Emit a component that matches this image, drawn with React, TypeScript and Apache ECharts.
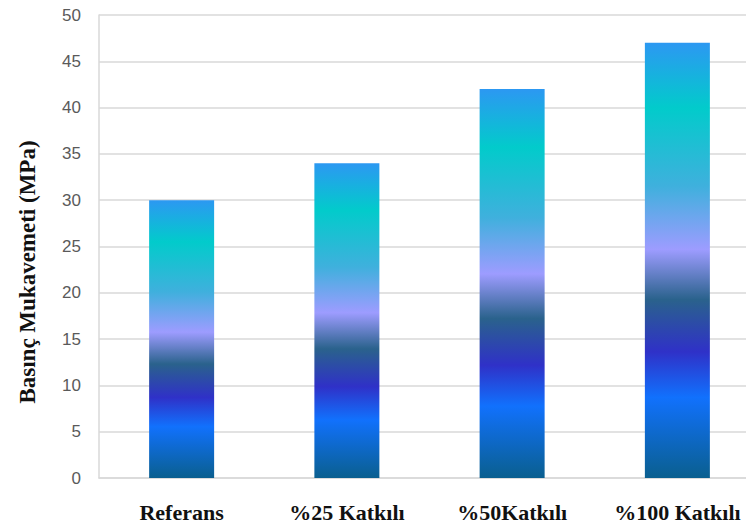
import React, { useEffect, useRef } from "react";
import * as echarts from "echarts";

const categories = ["Referans", "%25 Katkılı", "%50Katkılı", "%100 Katkılı"];
const strengthValues = [30, 34, 42, 47];
const yTicks = { min: 0, max: 50, interval: 5 };
const yAxisTitle = "Basınç Mukavemeti (MPa)";

const serif = "'Liberation Serif', 'Times New Roman', serif";

const barGradient = new echarts.graphic.LinearGradient(0, 0, 0, 1, [
  { offset: 0, color: "#2c98f2" },
  { offset: 0.15, color: "#02cbcb" },
  { offset: 0.33, color: "#3fb0dd" },
  { offset: 0.475, color: "#9d9cff" },
  { offset: 0.59, color: "#2a628c" },
  { offset: 0.71, color: "#2f31c8" },
  { offset: 0.815, color: "#1171fd" },
  { offset: 1, color: "#0a5f8f" },
]);

export default function App() {
  const ref = useRef<HTMLDivElement>(null);

  useEffect(() => {
    document.body.style.margin = "0";
    document.body.style.overflow = "hidden";
    const chart = echarts.init(ref.current!, null, { renderer: "svg" });
    chart.setOption({
      animation: false,
      backgroundColor: "#ffffff",
      grid: { left: 99, top: 15, right: 0, bottom: 51, containLabel: false },
      graphic: [
        {
          type: "text",
          x: 27,
          y: 272,
          rotation: Math.PI / 2,
          style: {
            text: yAxisTitle,
            fontFamily: serif,
            fontWeight: "bold",
            fontSize: 23,
            fill: "#111111",
            align: "center",
            verticalAlign: "middle",
          },
        },
      ],
      xAxis: {
        type: "category",
        data: categories,
        axisLine: { show: true, lineStyle: { color: "#d9d9d9", width: 1.5 } },
        axisTick: { show: false },
        axisLabel: {
          margin: 23,
          interval: 0,
          fontFamily: serif,
          fontWeight: "bold",
          fontSize: 22,
          color: "#111111",
        },
      },
      yAxis: {
        type: "value",
        min: yTicks.min,
        max: yTicks.max,
        interval: yTicks.interval,
        axisLine: { show: true, lineStyle: { color: "#d9d9d9", width: 1.5 } },
        axisTick: { show: false },
        axisLabel: {
          margin: 18,
          fontFamily: "'Liberation Sans', Arial, sans-serif",
          fontSize: 17,
          color: "#5a5a5a",
        },
        splitLine: { lineStyle: { color: "#d9d9d9", width: 1.5 } },
      },
      series: [
        {
          type: "bar",
          data: strengthValues,
          barWidth: 65,
          itemStyle: { color: barGradient },
        },
      ],
    });
    return () => chart.dispose();
  }, []);

  return (
    <div
      ref={ref}
      style={{ position: "absolute", left: 0, top: 0, width: 760, height: 529 }}
    />
  );
}
